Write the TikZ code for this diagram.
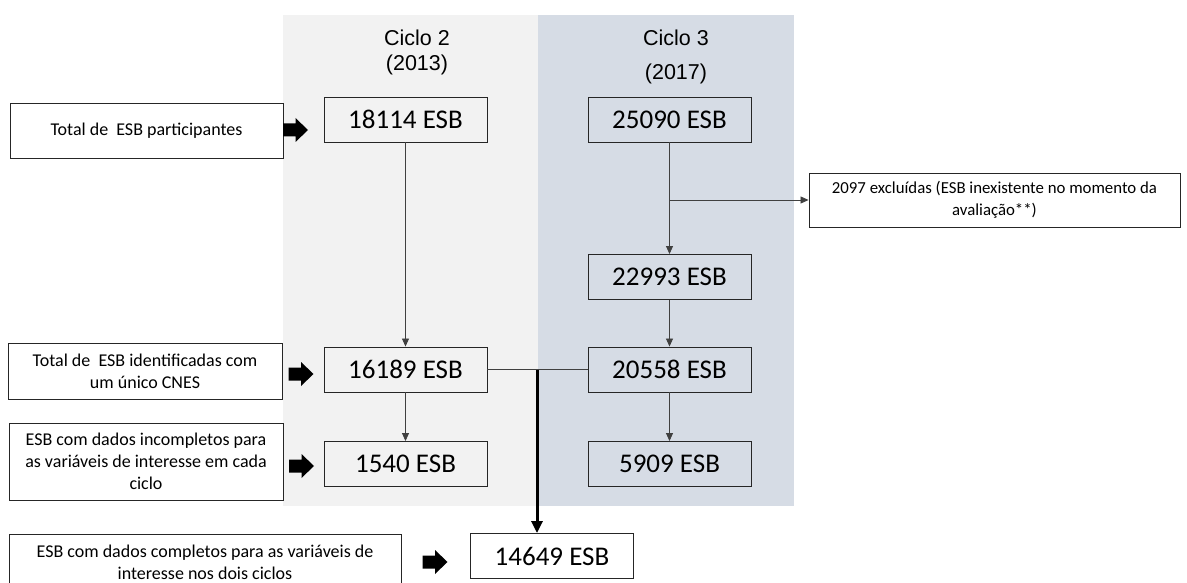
\documentclass[tikz,border=0pt]{standalone}
\usepackage{fontspec}
\setmainfont{Carlito}
\newfontfamily\arialf{Liberation Sans}
\usetikzlibrary{arrows.meta}
\definecolor{panelA}{HTML}{F2F2F2}
\definecolor{panelB}{HTML}{D6DCE5}
\definecolor{connc}{HTML}{404040}

% solid black block arrow pointing right, centred on the given point
\newcommand\blockarrow[1]{%
  \fill[black,shift={#1}] (-12.5,-6.5) -- (0,-6.5) -- (0,-12) -- (12.5,0)
    -- (0,12) -- (0,6.5) -- (-12.5,6.5) -- cycle;}

\begin{document}
\begin{tikzpicture}[x=1pt,y=-1pt,
  numbox/.style={draw=black!85, line width=0.9pt, minimum width=163pt,
    minimum height=45pt, inner sep=0pt, font=\fontsize{27}{30}\selectfont},
  labelbox/.style={draw=black!85, line width=0.9pt, inner sep=0pt,
    align=center, font=\fontsize{18}{22}\selectfont},
  conn/.style={draw=connc, line width=0.8pt},
  link/.style={conn, -{Triangle[length=8pt,width=7pt]}},
  head/.style={font=\arialf\fontsize{21.5}{25}\selectfont, align=center}
]
\useasboundingbox (0,0) rectangle (1187,583);

% cycle panels
\fill[panelA] (283,15) rectangle (538,506);
\fill[panelB] (538,15) rectangle (794,506);

\node[head] (h2) at (417,52.5) {Ciclo 2\\(2013)};
\node[head] (h3) at (676,57) {Ciclo 3\\[9pt](2017)};

% left column: cycle 2
\node[numbox] (c18114) at (405.5,119.5) {18114 ESB};
\node[numbox] (c16189) at (405.5,369.5) {16189 ESB};
\node[numbox] (c1540)  at (405.5,464)   {1540 ESB};

% right column: cycle 3
\node[numbox] (c25090) at (669.5,119.5) {25090 ESB};
\node[numbox] (c22993) at (669.5,277)   {22993 ESB};
\node[numbox] (c20558) at (669.5,369.5) {20558 ESB};
\node[numbox] (c5909)  at (669.5,464)   {5909 ESB};

% final count
\node[numbox] (c14649) at (552,556) {14649 ESB};

% row descriptions
\node[labelbox, minimum width=273pt, minimum height=55pt] (l1) at (146.5,130.5)
  {Total de\ \ ESB participantes};
\node[labelbox, minimum width=274pt, minimum height=56pt] (l2) at (145,371)
  {Total de\ \ ESB identificadas com\\um único CNES};
\node[labelbox, minimum width=274pt, minimum height=77pt] (l3) at (146,461.5)
  {ESB com dados incompletos para\\as variáveis de interesse em cada\\ciclo};
\node[labelbox, minimum width=392pt, minimum height=56pt] (l4) at (205,562)
  {ESB com dados completos para as variáveis de\\interesse nos dois ciclos};

% exclusion note
\node[labelbox, font=\fontsize{16.8}{22}\selectfont, minimum width=371pt,
  minimum height=54pt] (ex) at (994.5,200)
  {2097 excluídas (ESB inexistente no momento da\\avaliação**)};

% block arrows
\blockarrow{(295.5,130)}
\blockarrow{(301,374)}
\blockarrow{(301.5,466)}
\blockarrow{(435,562)}

% connectors
\draw[link] (c18114.south) -- (c16189.north);
\draw[link] (c16189.south) -- (c1540.north);
\draw[link] (c25090.south) -- (c22993.north);
\coordinate (br) at (c25090.south |- ex.west);
\draw[link] (br) -- (ex.west);
\draw[link] (c22993.south) -- (c20558.north);
\draw[link] (c20558.south) -- (c5909.north);
\draw[conn] (c16189.east) -- (c20558.west);
\coordinate (jn) at (537,369.5);
\draw[black, line width=3pt, -{Triangle[length=12pt,width=11pt]}]
  (jn) -- (jn |- c14649.north);
\end{tikzpicture}
\end{document}
